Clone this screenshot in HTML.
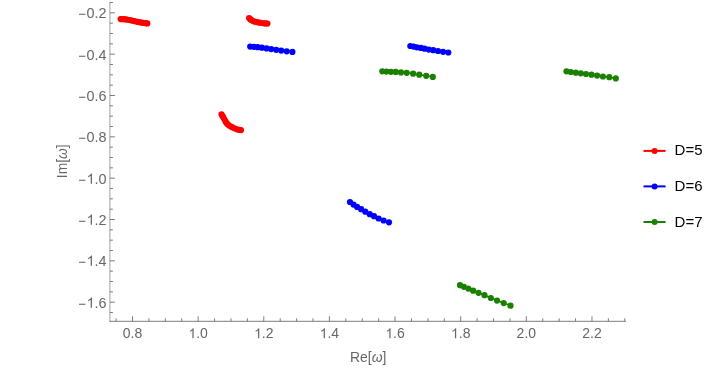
<!DOCTYPE html>
<html><head><meta charset="utf-8"><title>chart</title>
<style>html,body{margin:0;padding:0;background:#fff;}body{width:708px;height:368px;overflow:hidden;font-family:"Liberation Sans",sans-serif;}</style>
</head><body>
<svg width="708" height="368" viewBox="0 0 708 368" style="display:block;will-change:transform">
<rect width="708" height="368" fill="#fff"/>
<g stroke="#666666" stroke-width="0.85" fill="none">
<line x1="109.9" y1="2.0" x2="109.9" y2="321.7" stroke-width="0.62"/>
<line x1="109.5" y1="321.3" x2="626.0" y2="321.3" stroke-width="0.85"/>
<line x1="116.09" y1="321.3" x2="116.09" y2="318.30"/>
<line x1="132.50" y1="321.3" x2="132.50" y2="316.30"/>
<line x1="148.91" y1="321.3" x2="148.91" y2="318.30"/>
<line x1="165.32" y1="321.3" x2="165.32" y2="318.30"/>
<line x1="181.73" y1="321.3" x2="181.73" y2="318.30"/>
<line x1="198.14" y1="321.3" x2="198.14" y2="316.30"/>
<line x1="214.55" y1="321.3" x2="214.55" y2="318.30"/>
<line x1="230.96" y1="321.3" x2="230.96" y2="318.30"/>
<line x1="247.37" y1="321.3" x2="247.37" y2="318.30"/>
<line x1="263.78" y1="321.3" x2="263.78" y2="316.30"/>
<line x1="280.19" y1="321.3" x2="280.19" y2="318.30"/>
<line x1="296.60" y1="321.3" x2="296.60" y2="318.30"/>
<line x1="313.01" y1="321.3" x2="313.01" y2="318.30"/>
<line x1="329.42" y1="321.3" x2="329.42" y2="316.30"/>
<line x1="345.83" y1="321.3" x2="345.83" y2="318.30"/>
<line x1="362.24" y1="321.3" x2="362.24" y2="318.30"/>
<line x1="378.65" y1="321.3" x2="378.65" y2="318.30"/>
<line x1="395.06" y1="321.3" x2="395.06" y2="316.30"/>
<line x1="411.47" y1="321.3" x2="411.47" y2="318.30"/>
<line x1="427.88" y1="321.3" x2="427.88" y2="318.30"/>
<line x1="444.29" y1="321.3" x2="444.29" y2="318.30"/>
<line x1="460.70" y1="321.3" x2="460.70" y2="316.30"/>
<line x1="477.11" y1="321.3" x2="477.11" y2="318.30"/>
<line x1="493.52" y1="321.3" x2="493.52" y2="318.30"/>
<line x1="509.93" y1="321.3" x2="509.93" y2="318.30"/>
<line x1="526.34" y1="321.3" x2="526.34" y2="316.30"/>
<line x1="542.75" y1="321.3" x2="542.75" y2="318.30"/>
<line x1="559.16" y1="321.3" x2="559.16" y2="318.30"/>
<line x1="575.57" y1="321.3" x2="575.57" y2="318.30"/>
<line x1="591.98" y1="321.3" x2="591.98" y2="316.30"/>
<line x1="608.39" y1="321.3" x2="608.39" y2="318.30"/>
<line x1="624.80" y1="321.3" x2="624.80" y2="318.30"/>
<line x1="109.9" y1="312.50" x2="112.90" y2="312.50"/>
<line x1="109.9" y1="302.17" x2="114.90" y2="302.17"/>
<line x1="109.9" y1="291.83" x2="112.90" y2="291.83"/>
<line x1="109.9" y1="281.50" x2="112.90" y2="281.50"/>
<line x1="109.9" y1="271.17" x2="112.90" y2="271.17"/>
<line x1="109.9" y1="260.83" x2="114.90" y2="260.83"/>
<line x1="109.9" y1="250.50" x2="112.90" y2="250.50"/>
<line x1="109.9" y1="240.17" x2="112.90" y2="240.17"/>
<line x1="109.9" y1="229.83" x2="112.90" y2="229.83"/>
<line x1="109.9" y1="219.50" x2="114.90" y2="219.50"/>
<line x1="109.9" y1="209.17" x2="112.90" y2="209.17"/>
<line x1="109.9" y1="198.83" x2="112.90" y2="198.83"/>
<line x1="109.9" y1="188.50" x2="112.90" y2="188.50"/>
<line x1="109.9" y1="178.17" x2="114.90" y2="178.17"/>
<line x1="109.9" y1="167.83" x2="112.90" y2="167.83"/>
<line x1="109.9" y1="157.50" x2="112.90" y2="157.50"/>
<line x1="109.9" y1="147.17" x2="112.90" y2="147.17"/>
<line x1="109.9" y1="136.83" x2="114.90" y2="136.83"/>
<line x1="109.9" y1="126.50" x2="112.90" y2="126.50"/>
<line x1="109.9" y1="116.16" x2="112.90" y2="116.16"/>
<line x1="109.9" y1="105.83" x2="112.90" y2="105.83"/>
<line x1="109.9" y1="95.50" x2="114.90" y2="95.50"/>
<line x1="109.9" y1="85.16" x2="112.90" y2="85.16"/>
<line x1="109.9" y1="74.83" x2="112.90" y2="74.83"/>
<line x1="109.9" y1="64.50" x2="112.90" y2="64.50"/>
<line x1="109.9" y1="54.16" x2="114.90" y2="54.16"/>
<line x1="109.9" y1="43.83" x2="112.90" y2="43.83"/>
<line x1="109.9" y1="33.50" x2="112.90" y2="33.50"/>
<line x1="109.9" y1="23.16" x2="112.90" y2="23.16"/>
<line x1="109.9" y1="12.83" x2="114.90" y2="12.83"/>
<line x1="109.9" y1="2.50" x2="112.90" y2="2.50"/>
</g>
<g font-family="Liberation Sans, sans-serif" font-size="14.4" fill="#666666">
<text x="122.77" y="338.20" font-size="14">0.8</text>
<path d="M193.63,338.20 L192.40,338.20 L192.40,330.36 Q191.95,330.78 191.23,331.21 T189.93,331.84 L189.93,330.65 Q190.96,330.17 191.73,329.48 T192.81,328.15 L193.63,328.15 Z" stroke="none"/><text x="196.19" y="338.20" font-size="14">.0</text>
<path d="M259.27,338.20 L258.04,338.20 L258.04,330.36 Q257.59,330.78 256.87,331.21 T255.57,331.84 L255.57,330.65 Q256.60,330.17 257.37,329.48 T258.45,328.15 L259.27,328.15 Z" stroke="none"/><text x="261.83" y="338.20" font-size="14">.2</text>
<path d="M324.91,338.20 L323.68,338.20 L323.68,330.36 Q323.23,330.78 322.51,331.21 T321.21,331.84 L321.21,330.65 Q322.24,330.17 323.01,329.48 T324.09,328.15 L324.91,328.15 Z" stroke="none"/><text x="327.47" y="338.20" font-size="14">.4</text>
<path d="M390.55,338.20 L389.32,338.20 L389.32,330.36 Q388.87,330.78 388.15,331.21 T386.85,331.84 L386.85,330.65 Q387.88,330.17 388.65,329.48 T389.73,328.15 L390.55,328.15 Z" stroke="none"/><text x="393.11" y="338.20" font-size="14">.6</text>
<path d="M456.19,338.20 L454.96,338.20 L454.96,330.36 Q454.51,330.78 453.79,331.21 T452.49,331.84 L452.49,330.65 Q453.52,330.17 454.29,329.48 T455.37,328.15 L456.19,328.15 Z" stroke="none"/><text x="458.75" y="338.20" font-size="14">.8</text>
<text x="516.61" y="338.20" font-size="14">2.0</text>
<text x="582.25" y="338.20" font-size="14">2.2</text>
<rect x="79.02" y="13.73" width="6.4" height="1.05" stroke="none"/><text x="86.58" y="17.80" font-size="14.4">0.2</text>
<rect x="79.02" y="55.73" width="6.4" height="1.05" stroke="none"/><text x="86.58" y="59.80" font-size="14.4">0.4</text>
<rect x="79.02" y="96.73" width="6.4" height="1.05" stroke="none"/><text x="86.58" y="100.80" font-size="14.4">0.6</text>
<rect x="79.02" y="137.73" width="6.4" height="1.05" stroke="none"/><text x="86.58" y="141.80" font-size="14.4">0.8</text>
<rect x="79.02" y="179.73" width="6.4" height="1.05" stroke="none"/><path d="M91.95,183.80 L90.68,183.80 L90.68,175.74 Q90.23,176.17 89.48,176.61 T88.15,177.26 L88.15,176.04 Q89.21,175.55 89.99,174.84 T91.11,173.46 L91.95,173.46 Z" stroke="none"/><text x="94.59" y="183.80" font-size="14.4">.0</text>
<rect x="79.02" y="220.73" width="6.4" height="1.05" stroke="none"/><path d="M91.95,224.80 L90.68,224.80 L90.68,216.74 Q90.23,217.17 89.48,217.61 T88.15,218.26 L88.15,217.04 Q89.21,216.55 89.99,215.84 T91.11,214.46 L91.95,214.46 Z" stroke="none"/><text x="94.59" y="224.80" font-size="14.4">.2</text>
<rect x="79.02" y="261.73" width="6.4" height="1.05" stroke="none"/><path d="M91.95,265.80 L90.68,265.80 L90.68,257.74 Q90.23,258.17 89.48,258.61 T88.15,259.26 L88.15,258.04 Q89.21,257.55 89.99,256.84 T91.11,255.46 L91.95,255.46 Z" stroke="none"/><text x="94.59" y="265.80" font-size="14.4">.4</text>
<rect x="79.02" y="303.73" width="6.4" height="1.05" stroke="none"/><path d="M91.95,307.80 L90.68,307.80 L90.68,299.74 Q90.23,300.17 89.48,300.61 T88.15,301.26 L88.15,300.04 Q89.21,299.55 89.99,298.84 T91.11,297.46 L91.95,297.46 Z" stroke="none"/><text x="94.59" y="307.80" font-size="14.4">.6</text>
<text x="368.2" y="362.4" text-anchor="middle" font-size="13.9">Re[<tspan font-style="italic">ω</tspan>]</text>
<text transform="translate(67.4,161.3) rotate(-90)" text-anchor="middle" font-size="13.8">Im[<tspan font-style="italic">ω</tspan>]</text>
</g>
<path d="M120.6,19.1 L122.2,19.1 L124.0,19.2 L126.0,19.4 L128.0,19.8 L130.0,20.1 L132.0,20.6 L134.0,21.0 L136.0,21.5 L138.0,21.9 L140.0,22.3 L142.0,22.7 L144.0,23.0 L145.7,23.2 L147.3,23.4" stroke="#ff0000" stroke-width="1.6" fill="none" stroke-linejoin="round"/>
<g fill="#ff0000"><circle cx="120.6" cy="19.1" r="3.1"/><circle cx="122.2" cy="19.1" r="3.1"/><circle cx="124.0" cy="19.2" r="3.1"/><circle cx="126.0" cy="19.4" r="3.1"/><circle cx="128.0" cy="19.8" r="3.1"/><circle cx="130.0" cy="20.1" r="3.1"/><circle cx="132.0" cy="20.6" r="3.1"/><circle cx="134.0" cy="21.0" r="3.1"/><circle cx="136.0" cy="21.5" r="3.1"/><circle cx="138.0" cy="21.9" r="3.1"/><circle cx="140.0" cy="22.3" r="3.1"/><circle cx="142.0" cy="22.7" r="3.1"/><circle cx="144.0" cy="23.0" r="3.1"/><circle cx="145.7" cy="23.2" r="3.1"/><circle cx="147.3" cy="23.4" r="3.1"/></g>
<path d="M249.1,18.1 L250.2,19.2 L251.4,20.1 L253.1,21.0 L255.0,21.7 L257.2,22.2 L259.6,22.7 L261.8,23.0 L264.1,23.3 L265.8,23.4 L267.4,23.5" stroke="#ff0000" stroke-width="1.6" fill="none" stroke-linejoin="round"/>
<g fill="#ff0000"><circle cx="249.1" cy="18.1" r="3.1"/><circle cx="250.2" cy="19.2" r="3.1"/><circle cx="251.4" cy="20.1" r="3.1"/><circle cx="253.1" cy="21.0" r="3.1"/><circle cx="255.0" cy="21.7" r="3.1"/><circle cx="257.2" cy="22.2" r="3.1"/><circle cx="259.6" cy="22.7" r="3.1"/><circle cx="261.8" cy="23.0" r="3.1"/><circle cx="264.1" cy="23.3" r="3.1"/><circle cx="265.8" cy="23.4" r="3.1"/><circle cx="267.4" cy="23.5" r="3.1"/></g>
<path d="M221.5,114.3 L222.4,115.9 L223.4,117.4 L224.5,119.6 L225.6,121.7 L226.9,123.4 L228.3,124.8 L230.1,126.1 L232.1,127.2 L234.5,128.3 L237.0,129.3 L239.0,129.8 L241.0,130.1" stroke="#ff0000" stroke-width="1.6" fill="none" stroke-linejoin="round"/>
<g fill="#ff0000"><circle cx="221.5" cy="114.3" r="3.1"/><circle cx="222.4" cy="115.9" r="3.1"/><circle cx="223.4" cy="117.4" r="3.1"/><circle cx="224.5" cy="119.6" r="3.1"/><circle cx="225.6" cy="121.7" r="3.1"/><circle cx="226.9" cy="123.4" r="3.1"/><circle cx="228.3" cy="124.8" r="3.1"/><circle cx="230.1" cy="126.1" r="3.1"/><circle cx="232.1" cy="127.2" r="3.1"/><circle cx="234.5" cy="128.3" r="3.1"/><circle cx="237.0" cy="129.3" r="3.1"/><circle cx="239.0" cy="129.8" r="3.1"/><circle cx="241.0" cy="130.1" r="3.1"/></g>
<path d="M250.2,46.6 L253.9,46.8 L257.7,47.2 L261.9,47.7 L266.6,48.4 L271.2,49.1 L276.2,49.8 L281.2,50.6 L286.7,51.3 L292.4,51.9" stroke="#0000ff" stroke-width="1.6" fill="none" stroke-linejoin="round"/>
<g fill="#0000ff"><circle cx="250.2" cy="46.6" r="3.1"/><circle cx="253.9" cy="46.8" r="3.1"/><circle cx="257.7" cy="47.2" r="3.1"/><circle cx="261.9" cy="47.7" r="3.1"/><circle cx="266.6" cy="48.4" r="3.1"/><circle cx="271.2" cy="49.1" r="3.1"/><circle cx="276.2" cy="49.8" r="3.1"/><circle cx="281.2" cy="50.6" r="3.1"/><circle cx="286.7" cy="51.3" r="3.1"/><circle cx="292.4" cy="51.9" r="3.1"/></g>
<path d="M410.3,46.0 L413.6,46.6 L416.9,47.3 L420.8,47.9 L424.6,48.7 L428.8,49.6 L433.2,50.2 L438.0,51.0 L443.1,51.8 L448.3,52.5" stroke="#0000ff" stroke-width="1.6" fill="none" stroke-linejoin="round"/>
<g fill="#0000ff"><circle cx="410.3" cy="46.0" r="3.1"/><circle cx="413.6" cy="46.6" r="3.1"/><circle cx="416.9" cy="47.3" r="3.1"/><circle cx="420.8" cy="47.9" r="3.1"/><circle cx="424.6" cy="48.7" r="3.1"/><circle cx="428.8" cy="49.6" r="3.1"/><circle cx="433.2" cy="50.2" r="3.1"/><circle cx="438.0" cy="51.0" r="3.1"/><circle cx="443.1" cy="51.8" r="3.1"/><circle cx="448.3" cy="52.5" r="3.1"/></g>
<path d="M350.0,202.0 L353.5,204.6 L357.1,206.9 L361.1,209.2 L365.3,211.7 L369.7,214.2 L374.0,216.2 L378.6,218.5 L383.6,220.5 L389.0,222.3" stroke="#0000ff" stroke-width="1.6" fill="none" stroke-linejoin="round"/>
<g fill="#0000ff"><circle cx="350.0" cy="202.0" r="3.1"/><circle cx="353.5" cy="204.6" r="3.1"/><circle cx="357.1" cy="206.9" r="3.1"/><circle cx="361.1" cy="209.2" r="3.1"/><circle cx="365.3" cy="211.7" r="3.1"/><circle cx="369.7" cy="214.2" r="3.1"/><circle cx="374.0" cy="216.2" r="3.1"/><circle cx="378.6" cy="218.5" r="3.1"/><circle cx="383.6" cy="220.5" r="3.1"/><circle cx="389.0" cy="222.3" r="3.1"/></g>
<path d="M382.3,71.3 L386.4,71.6 L390.9,71.8 L395.7,71.9 L400.9,72.4 L406.7,72.8 L413.1,73.7 L419.2,74.7 L426.2,75.8 L432.8,76.9" stroke="#1a8000" stroke-width="1.6" fill="none" stroke-linejoin="round"/>
<g fill="#1a8000"><circle cx="382.3" cy="71.3" r="3.1"/><circle cx="386.4" cy="71.6" r="3.1"/><circle cx="390.9" cy="71.8" r="3.1"/><circle cx="395.7" cy="71.9" r="3.1"/><circle cx="400.9" cy="72.4" r="3.1"/><circle cx="406.7" cy="72.8" r="3.1"/><circle cx="413.1" cy="73.7" r="3.1"/><circle cx="419.2" cy="74.7" r="3.1"/><circle cx="426.2" cy="75.8" r="3.1"/><circle cx="432.8" cy="76.9" r="3.1"/></g>
<path d="M566.5,71.3 L570.8,72.0 L575.8,72.7 L580.8,73.3 L586.0,74.0 L591.5,74.7 L597.1,75.6 L602.9,76.5 L609.3,77.2 L615.8,78.4" stroke="#1a8000" stroke-width="1.6" fill="none" stroke-linejoin="round"/>
<g fill="#1a8000"><circle cx="566.5" cy="71.3" r="3.1"/><circle cx="570.8" cy="72.0" r="3.1"/><circle cx="575.8" cy="72.7" r="3.1"/><circle cx="580.8" cy="73.3" r="3.1"/><circle cx="586.0" cy="74.0" r="3.1"/><circle cx="591.5" cy="74.7" r="3.1"/><circle cx="597.1" cy="75.6" r="3.1"/><circle cx="602.9" cy="76.5" r="3.1"/><circle cx="609.3" cy="77.2" r="3.1"/><circle cx="615.8" cy="78.4" r="3.1"/></g>
<path d="M460.0,285.2 L463.9,286.8 L468.3,288.6 L473.1,290.7 L478.5,292.8 L484.5,295.2 L490.8,298.0 L497.0,300.6 L503.7,303.1 L510.5,305.7" stroke="#1a8000" stroke-width="1.6" fill="none" stroke-linejoin="round"/>
<g fill="#1a8000"><circle cx="460.0" cy="285.2" r="3.1"/><circle cx="463.9" cy="286.8" r="3.1"/><circle cx="468.3" cy="288.6" r="3.1"/><circle cx="473.1" cy="290.7" r="3.1"/><circle cx="478.5" cy="292.8" r="3.1"/><circle cx="484.5" cy="295.2" r="3.1"/><circle cx="490.8" cy="298.0" r="3.1"/><circle cx="497.0" cy="300.6" r="3.1"/><circle cx="503.7" cy="303.1" r="3.1"/><circle cx="510.5" cy="305.7" r="3.1"/></g>
<line x1="643.5" y1="150.9" x2="665.6" y2="150.9" stroke="#ff0000" stroke-width="2"/>
<circle cx="654.6" cy="150.9" r="3" fill="#ff0000"/>
<text x="674.6" y="155.4" font-family="Liberation Sans, sans-serif" font-size="15" fill="#000">D=5</text>
<line x1="643.5" y1="186.4" x2="665.6" y2="186.4" stroke="#0000ff" stroke-width="2"/>
<circle cx="654.6" cy="186.4" r="3" fill="#0000ff"/>
<text x="674.6" y="190.9" font-family="Liberation Sans, sans-serif" font-size="15" fill="#000">D=6</text>
<line x1="643.5" y1="222.0" x2="665.6" y2="222.0" stroke="#1a8000" stroke-width="2"/>
<circle cx="654.6" cy="222.0" r="3" fill="#1a8000"/>
<text x="674.6" y="226.5" font-family="Liberation Sans, sans-serif" font-size="15" fill="#000">D=7</text>
</svg>
</body></html>
